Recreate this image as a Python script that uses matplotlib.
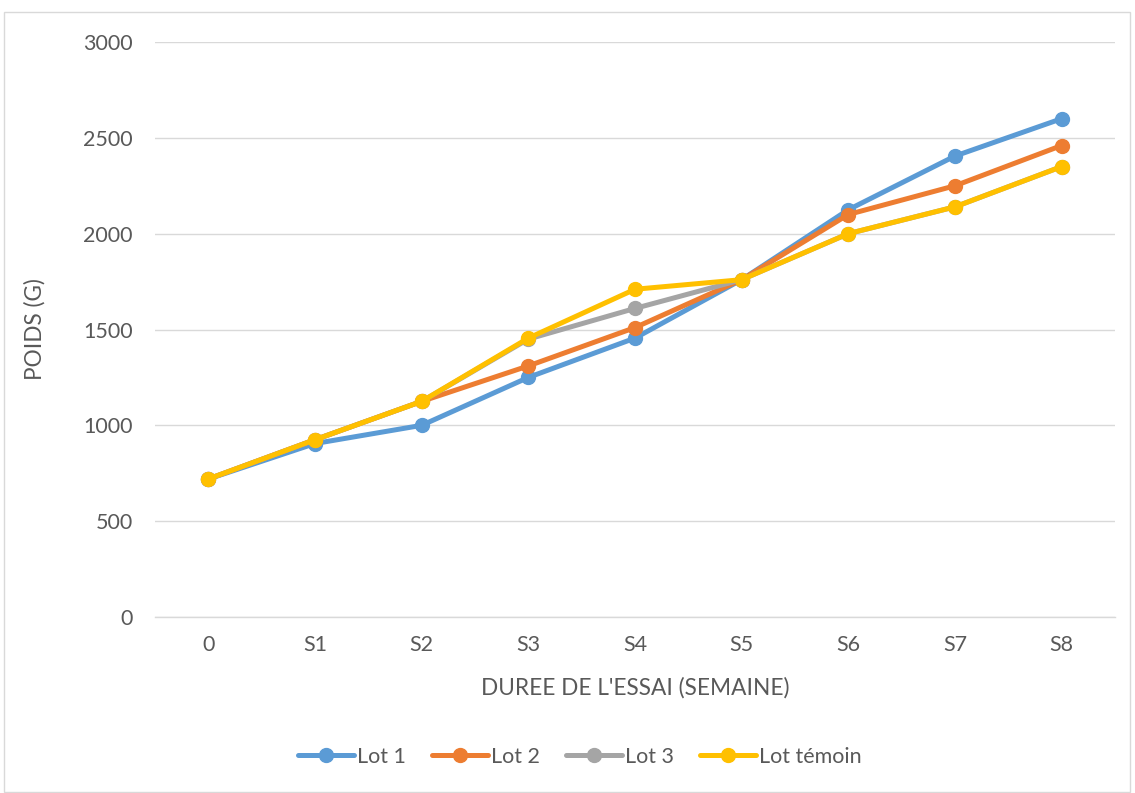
import matplotlib
matplotlib.use("Agg")
import matplotlib.pyplot as plt
from matplotlib.patches import Rectangle

weeks = ["0", "S1", "S2", "S3", "S4", "S5", "S6", "S7", "S8"]
lot1 = [720, 905, 1000, 1250, 1455, 1760, 2125, 2405, 2600]
lot2 = [720, 925, 1125, 1310, 1510, 1760, 2100, 2250, 2460]
lot3 = [720, 925, 1125, 1450, 1610, 1760, 2000, 2140, 2350]
temoin = [720, 925, 1125, 1455, 1710, 1760, 2000, 2140, 2350]

series = [
    ("Lot 1", lot1, "#5B9BD5"),
    ("Lot 2", lot2, "#ED7D31"),
    ("Lot 3", lot3, "#A5A5A5"),
    ("Lot témoin", temoin, "#FFC000"),
]
y_ticks = [0, 500, 1000, 1500, 2000, 2500, 3000]

plt.rcParams["font.family"] = ["Lato", "DejaVu Sans"]
text_color = "#595959"
W, H = 1135, 793

fig = plt.figure(figsize=(W / 100, H / 100), dpi=100)
ax = fig.add_axes([155 / W, 1 - 617 / H, 960 / W, 575 / H])

x = list(range(len(weeks)))
for name, vals, col in series:
    ax.plot(x, vals, color=col, lw=3.6, marker="o", markersize=10,
            solid_capstyle="round", solid_joinstyle="round", label=name)

ax.set_xlim(-0.5, len(weeks) - 0.5)
ax.set_ylim(0, 3000)
ax.set_yticks(y_ticks)
ax.set_xticks(x)
ax.set_xticklabels(weeks)
ax.tick_params(axis="both", length=0, labelsize=15.5, colors=text_color)
ax.tick_params(axis="y", pad=16)
ax.tick_params(axis="x", pad=13)
ax.grid(axis="y", color="#D9D9D9", lw=1)
ax.set_axisbelow(True)
for s in ["top", "left", "right"]:
    ax.spines[s].set_visible(False)
ax.spines["bottom"].set_color("#D9D9D9")
ax.spines["bottom"].set_linewidth(1)

ax.set_ylabel("POIDS (G)", fontsize=16.3, color=text_color, va="center")
ax.yaxis.set_label_coords((35 - 155) / 960, 0.5)
ax.set_xlabel("DUREE DE L'ESSAI (SEMAINE)", fontsize=16.3, color=text_color, va="center")
ax.xaxis.set_label_coords((635 - 155) / 960, (617 - 688) / 575)

leg = fig.legend(loc="center", bbox_to_anchor=(580 / W, 1 - 757 / H), ncol=4,
                 frameon=False, fontsize=15.5, handlelength=2.6, handletextpad=0.15,
                 columnspacing=1.2, markerscale=1.0)
for t in leg.get_texts():
    t.set_color(text_color)

fig.patches.append(Rectangle((4 / W, 1 / H), 1126 / W, 780 / H,
                             transform=fig.transFigure, fill=False,
                             edgecolor="#D9D9D9", lw=1))

fig.savefig("out.png", dpi=100)
